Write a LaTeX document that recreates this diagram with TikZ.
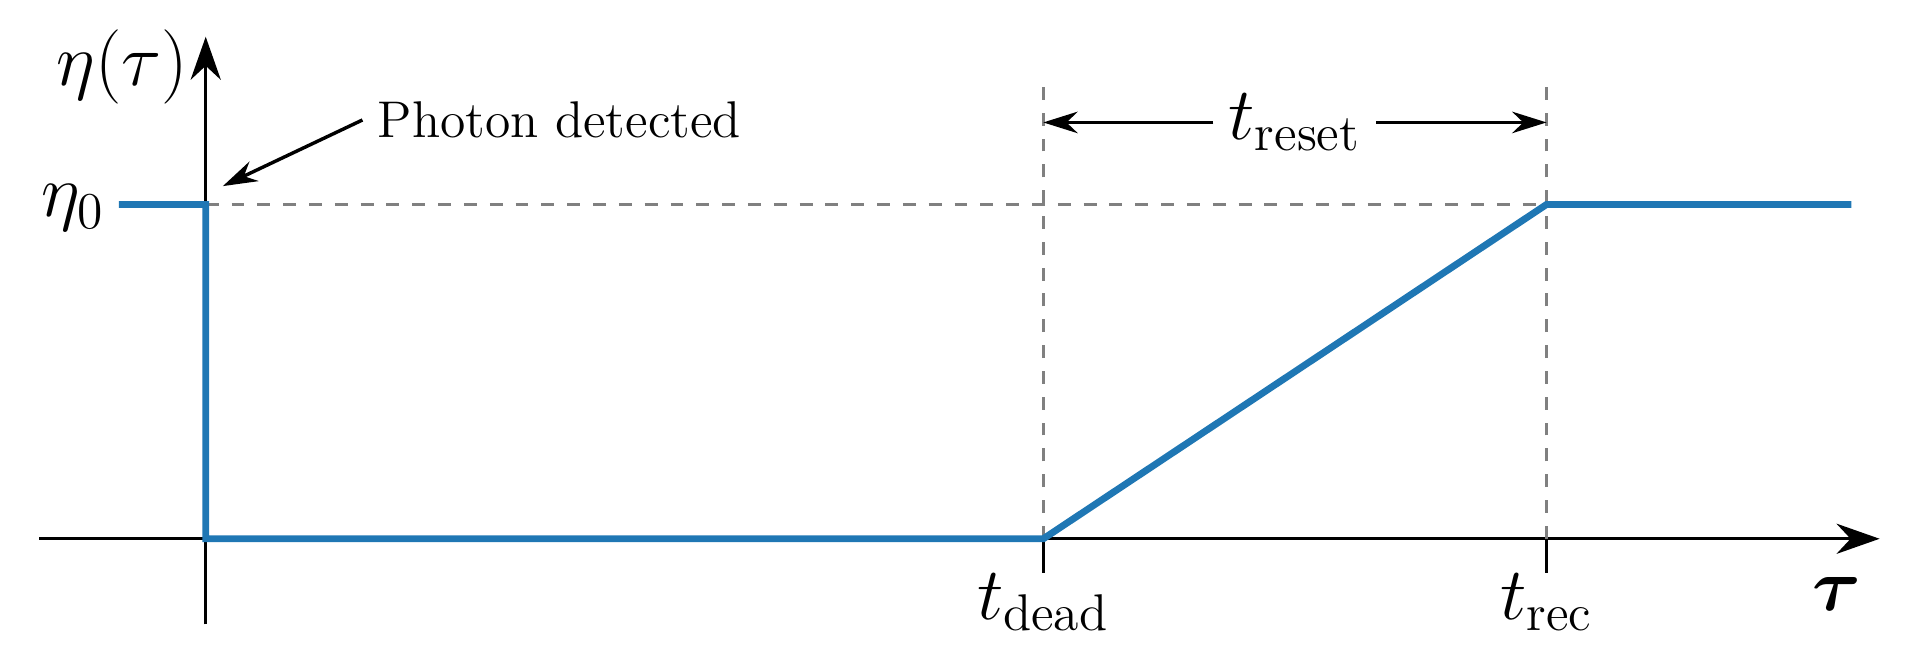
\documentclass[tikz,border=0pt]{standalone}
\usepackage{amsmath,bm}
\usetikzlibrary{arrows.meta}
\definecolor{curveblue}{RGB}{31,119,180}
\begin{document}
\begin{tikzpicture}[
        axis/.style={thick, -{Stealth[length=10pt, width=7pt]}},
        curve/.style={curveblue, line width=1.6pt},
        guide/.style={gray, dashed, thick},
        dim/.style={thick, -{Stealth[length=8pt, width=5pt]}},
        ]
    \useasboundingbox (0,0) rectangle (15.68,5.40);
    % axes
    \coordinate (xs) at (0.32,1.0);
    \coordinate (xe) at (15.35,1.0);
    \coordinate (ys) at (1.68,0.30);
    \coordinate (ye) at (1.68,5.10);
    \draw [axis] (xs) -- (xe);
    \draw [axis] (ys) -- (ye);
    \node (tau) at (15.0,0.55) {\LARGE $\bm{\tau}$};
    \node (eta) at (1.0,4.85) {\LARGE $\eta(\tau)$};
    \node (eta0) at (0.60,3.70) {\LARGE $\eta_0$};
    % guides
    \coordinate (d0) at (8.52,1.0);
    \coordinate (r0) at (12.63,1.0);
    \coordinate (d1) at (8.52,4.75);
    \coordinate (r1) at (12.63,4.75);
    \draw [guide] (d0) -- (d1);
    \draw [guide] (r0) -- (r1);
    \draw [guide] (1.68,3.73) -- (12.63,3.73);
    \draw [thick] (d0) -- ++(0,-0.28);
    \draw [thick] (r0) -- ++(0,-0.28);
    \node (tdead) at (8.52,0.48) {\LARGE $t_{\text{dead}}$};
    \node (trec) at (12.63,0.48) {\LARGE $t_{\text{rec}}$};
    % curve
    \draw [curve] (0.97,3.73) -- (1.68,3.73) -- (1.68,1.0) -- (d0) -- (12.63,3.73) -- (15.12,3.73);
    % reset
    \node (treset) at (10.575,4.40) {\LARGE $t_{\text{reset}}$};
    \draw [dim] (treset) -- (8.52,4.40);
    \draw [dim] (treset) -- (12.63,4.40);
    % annotation
    \node [anchor=west] (photon) at (2.96,4.42) {\large Photon detected};
    \coordinate (hit) at (1.82,3.88);
    \draw [dim] (photon.west) -- (hit);
\end{tikzpicture}
\end{document}
